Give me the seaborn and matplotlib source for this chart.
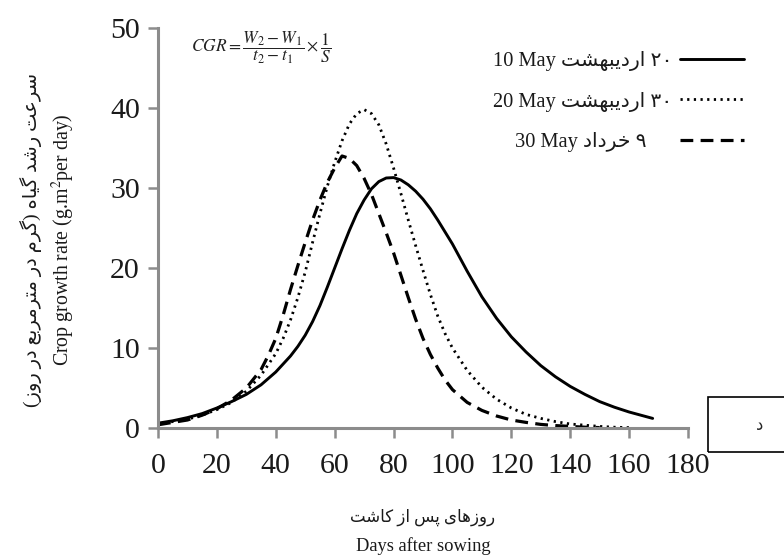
import numpy as np
import pandas as pd
import seaborn as sns
import matplotlib.pyplot as plt
from matplotlib.patches import Rectangle
from matplotlib.font_manager import FontProperties

# crop growth rate (g/m2 per day)
days_may10 = [0, 5, 10, 15, 20, 25, 30, 35, 40, 45, 47.5, 50, 52.5, 55, 57.5, 60, 62.5, 65, 67.5, 70, 72.5,
              75, 77.5, 80, 82.5, 85, 87.5, 90, 92.5, 95, 97.5, 100, 102.5, 105, 107.5, 110, 115,
              120, 125, 130, 135, 140, 145, 150, 155, 160, 165, 168]
cgr_may10 = [0.6, 0.9, 1.3, 1.8, 2.5, 3.3, 4.2, 5.4, 7.0, 9.0, 10.2, 11.6, 13.3, 15.3, 17.6, 20.0, 22.4,
             24.7, 26.8, 28.5, 29.9, 30.8, 31.25, 31.3, 31.0, 30.4, 29.6, 28.6, 27.4, 26.0, 24.5, 23.0,
             21.3, 19.6, 18.0, 16.4, 13.7, 11.4, 9.5, 7.8, 6.4, 5.2, 4.2, 3.3, 2.6, 2.0, 1.5, 1.2]

days_may20 = [0, 5, 10, 15, 20, 25, 30, 35, 40, 42.5, 45, 47.5, 50, 52.5, 55, 57.5, 60, 62.5, 65, 67.5,
              70, 72.5, 75, 77.5, 80, 82.5, 85, 87.5, 90, 92.5, 95, 97.5, 100, 105, 110, 115, 120,
              125, 130, 135, 140, 145, 150, 155, 160]
cgr_may20 = [0.5, 0.8, 1.1, 1.6, 2.3, 3.2, 4.6, 6.6, 9.3, 11.2, 13.5, 16.3, 19.5, 23.2, 26.8, 30.2, 33.2,
             35.9, 38.0, 39.3, 39.8, 39.3, 37.9, 35.5, 32.5, 29.3, 26.0, 22.8, 19.7, 16.7, 14.0, 11.8,
             10.0, 7.2, 5.1, 3.6, 2.5, 1.7, 1.2, 0.8, 0.5, 0.35, 0.2, 0.1, 0.05]

days_may30 = [0, 5, 10, 15, 20, 25, 30, 35, 37.5, 40, 42.5, 45, 47.5, 50, 52.5, 55, 57.5, 60, 62.5, 65,
              67.5, 70, 72.5, 75, 77.5, 80, 82.5, 85, 87.5, 90, 92.5, 95, 97.5, 100, 105, 110, 115,
              120, 125, 130, 135, 140, 145, 150]
cgr_may30 = [0.4, 0.7, 1.0, 1.6, 2.4, 3.5, 5.0, 7.3, 9.1, 11.2, 14.1, 17.3, 20.3, 23.2, 26.0, 28.5, 30.7,
             32.5, 34.0, 33.7, 32.8, 31.2, 29.2, 26.8, 24.4, 21.9, 19.1, 16.3, 13.6, 11.2, 9.2, 7.5,
             6.0, 4.8, 3.2, 2.2, 1.5, 1.0, 0.7, 0.45, 0.3, 0.2, 0.1, 0.05]

x_ticks = [0, 20, 40, 60, 80, 100, 120, 140, 160, 180]
y_ticks = [0, 10, 20, 30, 40, 50]

# Persian contextual forms: isolated, final, initial, medial
FORMS = {
    'ا': ('\uFE8D', '\uFE8E'), 'د': ('\uFEA9', '\uFEAA'), 'ر': ('\uFEAD', '\uFEAE'),
    'ز': ('\uFEAF', '\uFEB0'), 'و': ('\uFEED', '\uFEEE'),
    'ب': ('\uFE8F', '\uFE90', '\uFE91', '\uFE92'),
    'پ': ('\uFB56', '\uFB57', '\uFB58', '\uFB59'),
    'ت': ('\uFE95', '\uFE96', '\uFE97', '\uFE98'),
    'خ': ('\uFEA5', '\uFEA6', '\uFEA7', '\uFEA8'),
    'س': ('\uFEB1', '\uFEB2', '\uFEB3', '\uFEB4'),
    'ش': ('\uFEB5', '\uFEB6', '\uFEB7', '\uFEB8'),
    'ع': ('\uFEC9', '\uFECA', '\uFECB', '\uFECC'),
    'م': ('\uFEE1', '\uFEE2', '\uFEE3', '\uFEE4'),
    'ه': ('\uFEE9', '\uFEEA', '\uFEEB', '\uFEEC'),
    'ک': ('\uFB8E', '\uFB8F', '\uFB90', '\uFB91'),
    'گ': ('\uFB92', '\uFB93', '\uFB94', '\uFB95'),
    'ی': ('\uFBFC', '\uFBFD', '\uFBFE', '\uFBFF'),
}


def fa(text):
    # shape letters and flip to visual (left-to-right) order
    out = []
    for i, ch in enumerate(text):
        f = FORMS.get(ch)
        if f is None:
            out.append({'(': ')', ')': '('}.get(ch, ch))
            continue
        prev = text[i - 1] if i > 0 else ''
        nxt = text[i + 1] if i + 1 < len(text) else ''
        join_prev = len(FORMS.get(prev, ())) == 4
        join_next = len(f) == 4 and nxt in FORMS
        idx = (2 + join_prev) if join_next else int(join_prev)
        out.append(f[idx])
    return ''.join(reversed(out))


labels = ['10 May ' + fa('اردیبهشت') + ' ۲۰',
          '20 May ' + fa('اردیبهشت') + ' ۳۰',
          '30 May ' + fa('خرداد') + ' ۹' + '\u00a0' * 5]

sns.set_style('ticks')
plt.rcParams['font.family'] = ['Liberation Serif', 'DejaVu Sans']
plt.rcParams['mathtext.fontset'] = 'stix'
mixed = ['Liberation Serif', 'DejaVu Sans']

fig = plt.figure(figsize=(7.84, 5.57), dpi=100)
ax = fig.add_axes([158 / 784, 1 - 428 / 557, 530 / 784, 400 / 557])

sns.lineplot(x=days_may10, y=cgr_may10, ax=ax, color='black', lw=2.1, label=labels[0])
sns.lineplot(x=days_may20, y=cgr_may20, ax=ax, color='black', lw=2.0, label=labels[1])
sns.lineplot(x=days_may30, y=cgr_may30, ax=ax, color='black', lw=2.3, label=labels[2])
ax.lines[1].set_dashes([0.8, 1.6])
ax.lines[2].set_dashes([4.0, 2.3])

ax.set_xlim(0, 180)
ax.set_ylim(0, 50)
ax.set_xticks(x_ticks)
ax.set_yticks(y_ticks)
ax.tick_params(axis='both', labelsize=21.5, length=7, width=1.8, color='#8c8c8c', labelcolor='#1a1a1a')
ax.tick_params(axis='x', pad=11)
ax.tick_params(axis='y', pad=6)
for side in ['top', 'right']:
    ax.spines[side].set_visible(False)
for side in ['left', 'bottom']:
    ax.spines[side].set_color('#8c8c8c')
    ax.spines[side].set_linewidth(2.2)
ax.set_xlabel('')
ax.set_ylabel('')

leg = ax.legend(loc='upper right', bbox_to_anchor=(752 / 784, 1 - 43 / 557), bbox_transform=fig.transFigure,
                markerfirst=False, frameon=False, handlelength=3.15, handletextpad=0.35, labelspacing=1.0,
                borderaxespad=0, prop=FontProperties(family=mixed, size=14.7))
for t in leg.get_texts():
    t.set_color('#1a1a1a')

# formula
fig.text(261 / 784, 1 - 48 / 557, r'$CGR=\dfrac{W_2-W_1}{t_2-t_1}\times\dfrac{1}{S}$',
         ha='center', va='center', fontsize=12.5, color='#222222')

# axis titles, Persian and English
fig.text(31 / 784, 1 - 240 / 557, fa('سرعت رشد گیاه (گرم در مترمربع در روز)'), rotation=90,
         ha='center', va='center', fontsize=14, family=mixed, color='#1a1a1a')
fig.text(63 / 784, 1 - 240 / 557, r'Crop growth rate (g.m$^{2}$per day)', rotation=90,
         ha='center', va='center', fontsize=14.3, color='#1a1a1a')
fig.text(423 / 784, 1 - 517 / 557, fa('روزهای پس از کاشت'), ha='center', va='center',
         fontsize=12, family=mixed, color='#1a1a1a')
fig.text(423 / 784, 1 - 546 / 557, 'Days after sowing', ha='center', va='center',
         fontsize=13.3, color='#1a1a1a')

# panel letter box
fig.patches.append(Rectangle((708 / 784, 1 - 452 / 557), 0.2, 55 / 557, transform=fig.transFigure,
                             fill=False, edgecolor='black', lw=1.2))
fig.text(760 / 784, 1 - 426 / 557, fa('د'), ha='center', va='center', fontsize=12, family=mixed)

fig.savefig('out.png', dpi=100)
